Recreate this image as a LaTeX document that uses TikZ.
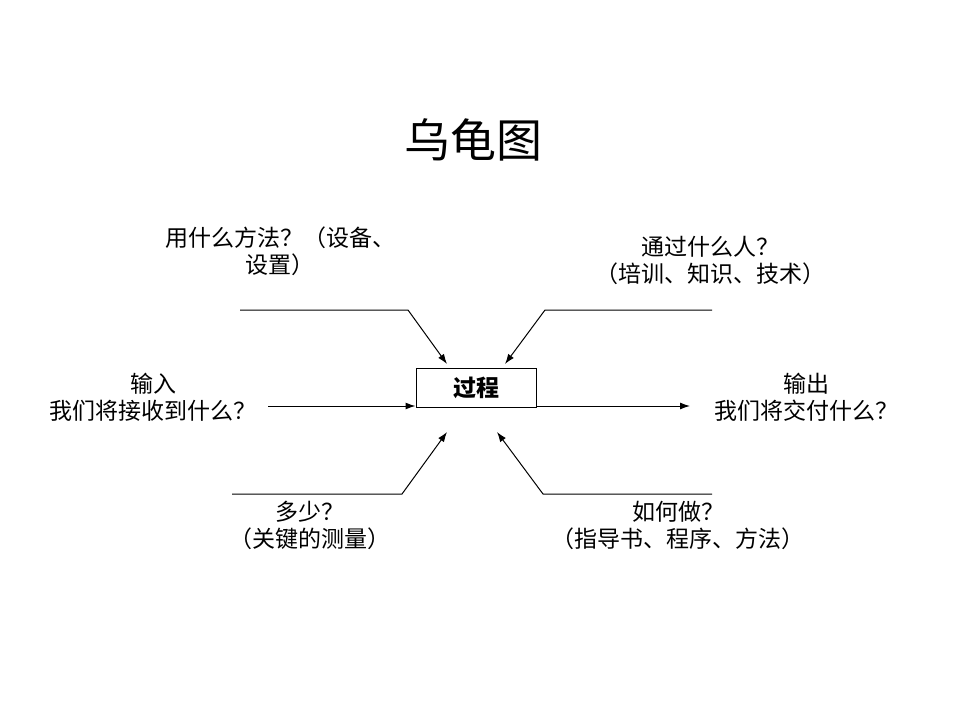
\documentclass[tikz,border=0pt]{standalone}
\usepackage{fontspec}
\newfontfamily\cjk{Noto Sans CJK SC}
\usetikzlibrary{arrows.meta,positioning}

\begin{document}
\begin{tikzpicture}[
    x=1pt, y=-1pt,
    every node/.style={font=\cjk\fontsize{23}{27}\selectfont},
    label/.style={align=center, inner sep=0pt},
    box/.style={
        draw,
        line width=1pt,
        minimum width=120pt,
        minimum height=39pt,
        inner sep=0pt,
        font=\cjk\bfseries\fontsize{23}{27}\selectfont
    },
    arrow/.style={-{Latex[length=10pt,width=7pt]}, line width=1pt},
    line/.style={line width=1pt}
]
\useasboundingbox (0,0) rectangle (960,720);

% Title
\node (title) at (473,140) {\fontsize{46}{52}\selectfont 乌龟图};

% Process box
\node[box] (proc) at (476,388) {过程};

% Labels round the box
\node[label] (how)  at (280,251) {用什么方法？（设备、\\设置）};
\node[label] (who)  at (710,260) {通过什么人？\\（培训、知识、技术）};
\node[label] (in)   at (153,397) {输入\\我们将接收到什么？};
\node[label] (out)  at (806,397) {输出\\我们将交付什么？};
\node[label] (much) at (310,525) {多少？\\（关键的测量）};
\node[label] (do)   at (678,525) {如何做？\\（指导书、程序、方法）};

% Line ends
\coordinate (tl0) at (240,310);  \coordinate (tl1) at (408,310);
\coordinate (tr0) at (712,310);  \coordinate (tr1) at (545,310);
\coordinate (bl0) at (232,494);  \coordinate (bl1) at (402,494);
\coordinate (br0) at (712,494);  \coordinate (br1) at (543,494);
\coordinate (in0) at (268,406);
\coordinate (out1) at (690,406);

% Top arrows
\draw[arrow] (tl0) -- (tl1) -- ([xshift=-29pt,yshift=4pt]proc.north);
\draw[arrow] (tr0) -- (tr1) -- ([xshift=29pt,yshift=4pt]proc.north);

% Input and output
\draw[arrow] (in0) -- (in0 -| proc.west);
\draw[arrow] (in0 -| proc.east) -- (out1);

% Bottom arrows
\draw[arrow] (bl0) -- (bl1) -- ([xshift=-29pt,yshift=-24pt]proc.south);
\draw[arrow] (br0) -- (br1) -- ([xshift=21pt,yshift=-24pt]proc.south);

\end{tikzpicture}
\end{document}
